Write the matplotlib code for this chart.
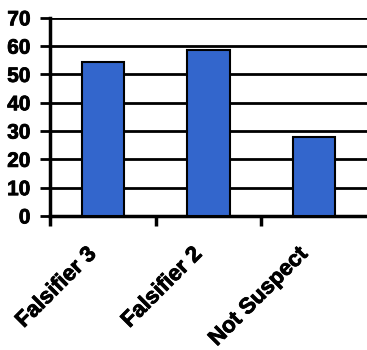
import matplotlib.pyplot as plt
import matplotlib.transforms as mtransforms
import matplotlib.patheffects as pe

categories = ['Falsifier 3', 'Falsifier 2', 'Not Suspect']
values = [54.5, 58.5, 28]
y_ticks = [0, 10, 20, 30, 40, 50, 60, 70]

plt.rcParams['font.family'] = 'Liberation Sans'
plt.rcParams['font.weight'] = 'bold'

fig = plt.figure(figsize=(3.67, 3.5), dpi=100)
ax = fig.add_axes([0.136, 0.383, 0.864, 0.566])

pos = list(range(len(categories)))
ax.bar(pos, values, width=0.4, color='#3366CC', edgecolor='black', linewidth=1.5, zorder=3)

ax.set_xlim(-0.5, len(categories) - 0.5)
ax.set_ylim(0, 70)
ax.set_yticks(y_ticks)
ax.set_yticklabels([str(t) for t in y_ticks], fontsize=15, fontweight='bold')
ax.yaxis.grid(True, color='black', linewidth=2, zorder=0)
ax.set_axisbelow(True)

# boundary ticks as major, labels on minor ticks at bar centers
ax.set_xticks([p - 0.5 for p in pos])
ax.set_xticklabels([])
ax.set_xticks(pos, minor=True)
ax.set_xticklabels(categories, minor=True, rotation=45, ha='right', va='top',
                   rotation_mode='anchor', fontsize=16, fontweight='bold')
ax.tick_params(axis='x', which='major', length=7, width=2.5, direction='out')
ax.tick_params(axis='x', which='minor', length=0, pad=20)
ax.tick_params(axis='y', length=7, width=2, direction='out', pad=7)

# nudge the rotated labels left, like the original
shift = mtransforms.ScaledTranslation(-17 / 100, 0, fig.dpi_scale_trans)
for lab in ax.get_xticklabels(minor=True):
    lab.set_transform(lab.get_transform() + shift)

# slightly heavier text
heavy = [pe.withStroke(linewidth=0.6, foreground='black')]
for lab in ax.get_xticklabels(minor=True) + ax.get_yticklabels():
    lab.set_path_effects(heavy)

for s in ['top', 'right']:
    ax.spines[s].set_visible(False)
ax.spines['left'].set_linewidth(2.5)
ax.spines['bottom'].set_linewidth(2.5)

fig.savefig('out.png', dpi=100)
